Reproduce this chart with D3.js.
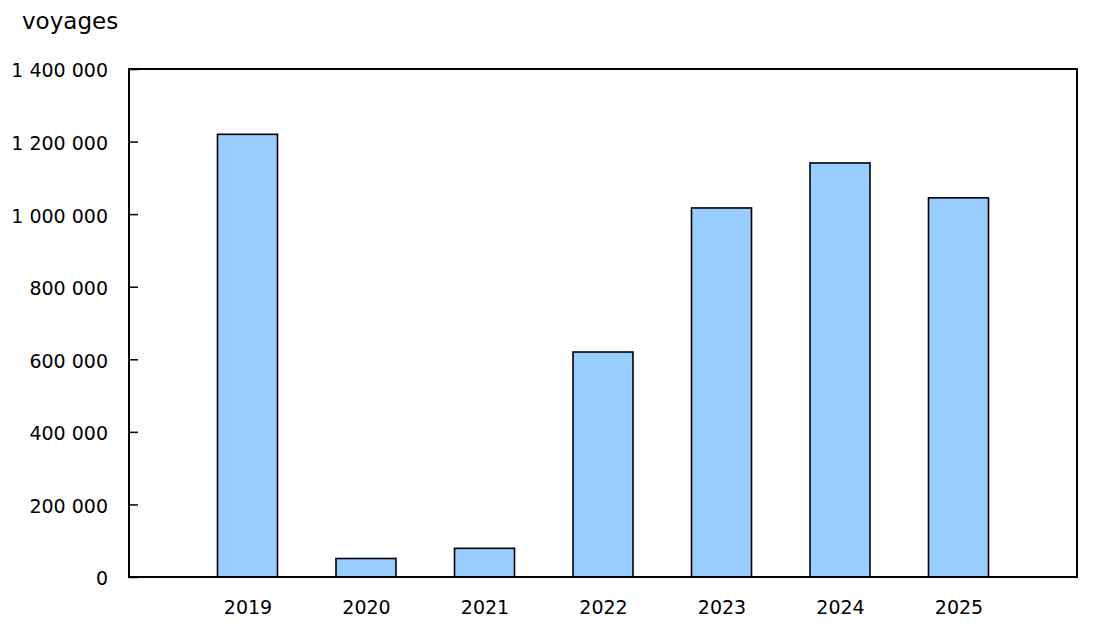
<!doctype html>
<html>
  <head>
    <title>voyages</title>
    <style>
      * { margin: 0; padding: 0; }
      body { background: #fff; font-family: "DejaVu Sans", Verdana, sans-serif; }
      text { fill: #000; }
    </style>
    <script src="https://cdnjs.cloudflare.com/ajax/libs/d3/7.8.5/d3.min.js"></script>
  </head>
  <body>
    <svg id="chart" width="1110" height="632"></svg>
    <script>
      // data
      var years = ["2019", "2020", "2021", "2022", "2023", "2024", "2025"];
      var trips = [1220000, 51000, 79000, 620000, 1017000, 1141000, 1045000];
      var yTicks = [0, 200000, 400000, 600000, 800000, 1000000, 1200000, 1400000];
      var unitLabel = "voyages";

      var width = 1110, height = 632;
      var margin = {top: 69, right: 33, bottom: 55, left: 129};
      var w = width - margin.left - margin.right;
      var h = height - margin.top - margin.bottom;
      var barWidth = 60;

      var svg = d3.select("#chart");
      var g = svg.append("g").attr("transform", "translate(" + margin.left + "," + margin.top + ")");

      var x = d3.scalePoint().domain(years).range([0, w]).padding(1);
      var y = d3.scaleLinear().domain([0, 1400000]).range([h, 0]);

      var fmt = function (v) { return d3.format(",")(v).replace(/,/g, " "); };

      // y axis: ticks point into the plot, labels on the left
      var yAxis = g.append("g")
        .call(d3.axisLeft(y).tickValues(yTicks).tickSize(-9).tickPadding(21).tickFormat(fmt));
      yAxis.select(".domain").remove();
      yAxis.selectAll(".tick line").attr("stroke", "#000").attr("stroke-width", 1.5);
      yAxis.selectAll(".tick text")
        .attr("font-family", "DejaVu Sans, Verdana, sans-serif")
        .attr("font-size", "19px")
        .attr("fill", "#000")
        .attr("dy", "0.42em");

      // x axis labels, no ticks
      var xAxis = g.append("g")
        .attr("transform", "translate(0," + h + ")")
        .call(d3.axisBottom(x).tickSize(0).tickPadding(24));
      xAxis.select(".domain").remove();
      xAxis.selectAll(".tick text")
        .attr("font-family", "DejaVu Sans, Verdana, sans-serif")
        .attr("font-size", "19px")
        .attr("fill", "#000");

      // bars
      g.selectAll("rect.bar")
        .data(years)
        .enter()
        .append("rect")
        .attr("class", "bar")
        .attr("x", function (d) { return x(d) - barWidth / 2; })
        .attr("y", function (d, i) { return y(trips[i]); })
        .attr("width", barWidth)
        .attr("height", function (d, i) { return h - y(trips[i]); })
        .attr("fill", "#99ccff")
        .attr("stroke", "#000")
        .attr("stroke-width", 1.6);

      // plot frame
      g.append("rect")
        .attr("x", 0)
        .attr("y", 0)
        .attr("width", w)
        .attr("height", h)
        .attr("fill", "none")
        .attr("stroke", "#000")
        .attr("stroke-width", 2);

      svg.append("text")
        .attr("x", 22)
        .attr("y", 29)
        .attr("font-size", "23px")
        .text(unitLabel);
    </script>
  </body>
</html>
